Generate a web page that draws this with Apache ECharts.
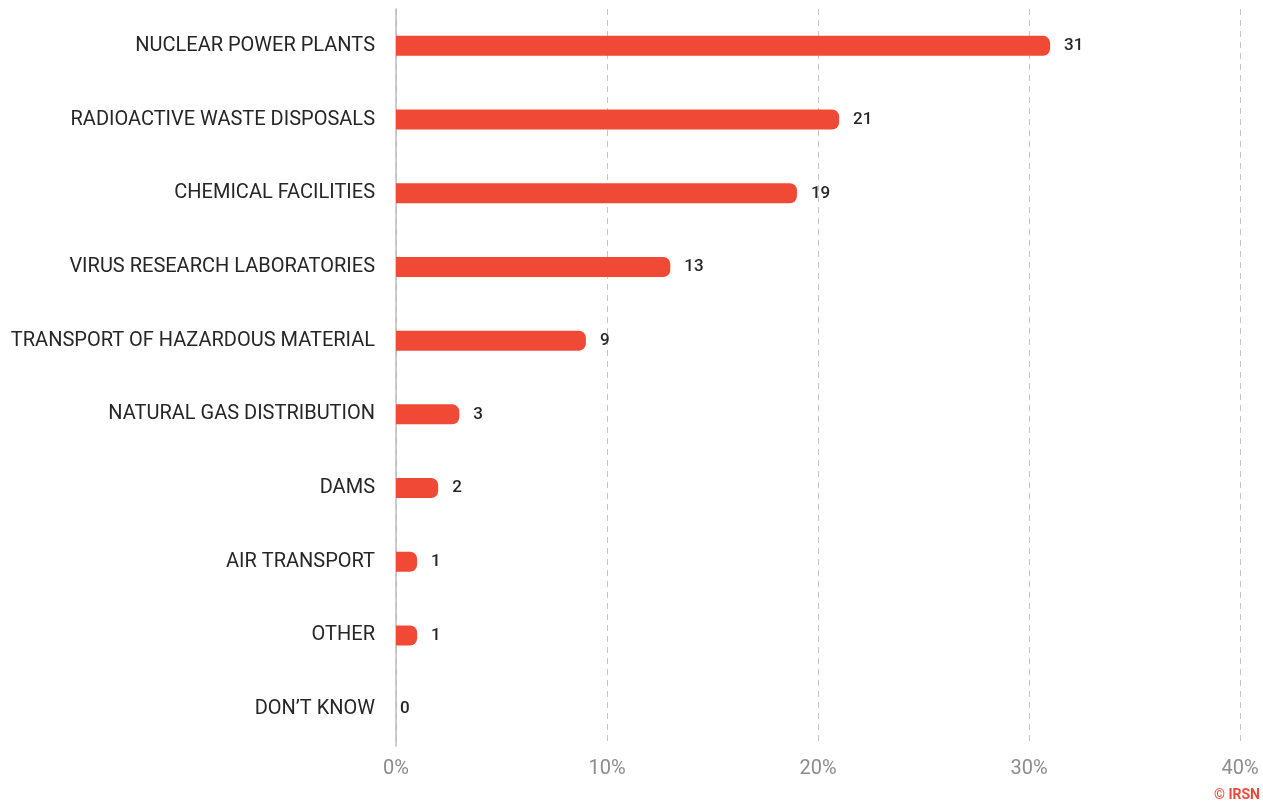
<!DOCTYPE html>
<html>
<head>
<meta charset="utf-8">
<script src="https://cdn.jsdelivr.net/npm/echarts@6/dist/echarts.min.js"></script>
<style>
  html, body { margin: 0; padding: 0; background: #fff; }
  #chart { width: 1263px; height: 804px; }
</style>
</head>
<body>
<div id="chart"></div>
<script>
// Risk categories, listed top to bottom
const categories = [
  'NUCLEAR POWER PLANTS',
  'RADIOACTIVE WASTE DISPOSALS',
  'CHEMICAL FACILITIES',
  'VIRUS RESEARCH LABORATORIES',
  'TRANSPORT OF HAZARDOUS MATERIAL',
  'NATURAL GAS DISTRIBUTION',
  'DAMS',
  'AIR TRANSPORT',
  'OTHER',
  'DON\u2019T KNOW'
];
// Share of respondents, in percent
const shares = [31, 21, 19, 13, 9, 3, 2, 1, 1, 0];
// Axis ticks, in percent
const tickValues = [0, 10, 20, 30, 40];

// Empty bars keep their label close to the axis
const barData = shares.map(v => v === 0 ? { value: v, label: { distance: 4 } } : v);

const chart = echarts.init(document.getElementById('chart'));
chart.setOption({
  animation: false,
  textStyle: { fontFamily: 'Roboto, sans-serif' },
  grid: { left: 396, right: 23, top: 9, bottom: 58, containLabel: false },
  xAxis: {
    type: 'value',
    min: tickValues[0],
    max: tickValues[tickValues.length - 1],
    interval: 10,
    axisLine: { show: false },
    axisTick: { show: false },
    splitLine: { show: true, lineStyle: { color: '#c4c4c4', type: [6, 5], width: 1 } },
    axisLabel: {
      formatter: v => v + '%',
      color: '#8c8c8c',
      fontSize: 20,
      margin: 13
    }
  },
  yAxis: {
    type: 'category',
    data: categories,
    inverse: true,
    axisLine: { show: true, lineStyle: { color: '#bdbdbd', width: 1.5 } },
    axisTick: { show: false },
    axisLabel: { color: '#262626', fontSize: 20, margin: 21 }
  },
  series: [{
    type: 'bar',
    data: barData,
    barWidth: 20,
    itemStyle: { color: '#f04a37', borderRadius: [0, 7, 7, 0] },
    label: {
      show: true,
      position: 'right',
      distance: 14,
      color: '#262626',
      fontSize: 17,
      fontWeight: 500
    }
  }],
  graphic: [{
    type: 'text',
    right: 3,
    bottom: 2,
    style: {
      text: '\u00a9 IRSN',
      fill: '#f04a37',
      font: 'bold 14px Roboto, sans-serif'
    }
  }]
});
</script>
</body>
</html>
